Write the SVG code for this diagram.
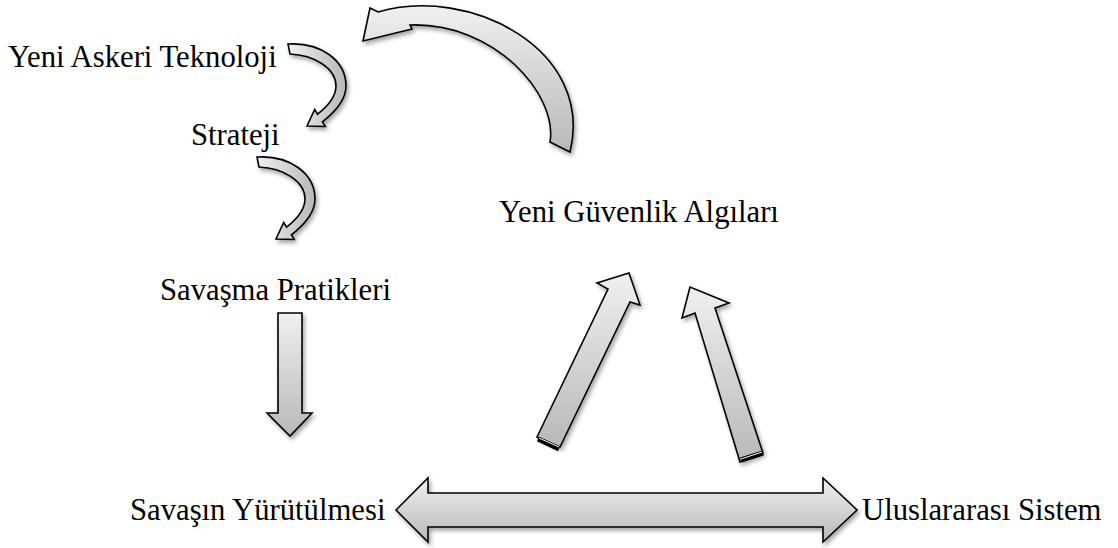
<svg xmlns="http://www.w3.org/2000/svg" width="1118" height="548" viewBox="0 0 1118 548">
<defs>
<linearGradient id="g" x1="0" y1="0" x2="0" y2="1">
<stop offset="0" stop-color="#f0f0f0"/>
<stop offset="1" stop-color="#b8b8b8"/>
</linearGradient>
<linearGradient id="gh" x1="0" y1="0" x2="1" y2="0">
<stop offset="0" stop-color="#f0f0f0"/>
<stop offset="1" stop-color="#b8b8b8"/>
</linearGradient>
<filter id="sh" x="-20%" y="-20%" width="140%" height="140%">
<feDropShadow dx="2" dy="3" stdDeviation="2" flood-color="#000" flood-opacity="0.35"/>
</filter>
<path id="curl" d="M288,44 C320,42 346,60 346,86 C346,100 335,112 322.4,121.8 L325.3,126.5 L307,126 L314.7,109.5 L317.6,114.2 C328,106 336,97 336,86 C336,68 314,55 290,54 Z"/>
</defs>
<style>
.t{font-family:"Liberation Serif","Times New Roman",serif;font-size:30.7px;fill:#000}
.a{fill:url(#g);stroke:#000;stroke-width:1.6;stroke-linejoin:miter;filter:url(#sh)}
.ah{fill:url(#gh);stroke:#000;stroke-width:1.6;filter:url(#sh)}
.end{stroke:#000;stroke-width:5;fill:none}
.endw{stroke:#fff;stroke-width:1;fill:none}
</style>
<g id="connectors">
<use href="#curl" class="ah"/>
<use href="#curl" class="ah" transform="translate(-31,113)"/>
<path class="a" d="M363,41 L370,8 L378,12 C470,-15 595,50 570,152 L550,142 C558,95 495,22 410,25 L412,29 Z"/>
<path class="a" d="M278,313 L302,313 L302,413 L312,413 L290,436 L267,413 L278,413 Z"/>
<path class="a" d="M537,437 L608,289 L597,283 L629,273 L640,305 L630,302 L560,447 Z"/>
<line class="end" x1="538" y1="439" x2="559" y2="449"/>
<line class="endw" x1="539" y1="438" x2="559" y2="447"/>
<path class="a" d="M740,462 L695,313 L682,318 L690,287 L729,303 L715,308 L763,453 Z"/>
<line class="end" x1="741" y1="460" x2="763" y2="453"/>
<line class="endw" x1="741" y1="459" x2="762" y2="452"/>
<path class="a" d="M396,510 L428,478 L428,493 L823,493 L823,478 L857,510 L823,542 L823,527 L428,527 L428,542 Z"/>
</g>
<g id="n1"><text class="t" x="8" y="67">Yeni Askeri Teknoloji</text></g>
<g id="n2"><text class="t" x="191" y="145">Strateji</text></g>
<g id="n3"><text class="t" x="160" y="300">Savaşma Pratikleri</text></g>
<g id="n4"><text class="t" x="499" y="222">Yeni Güvenlik Algıları</text></g>
<g id="n5"><text class="t" x="130" y="520">Savaşın Yürütülmesi</text></g>
<g id="n6"><text class="t" x="862" y="520">Uluslararası Sistem</text></g>
</svg>
